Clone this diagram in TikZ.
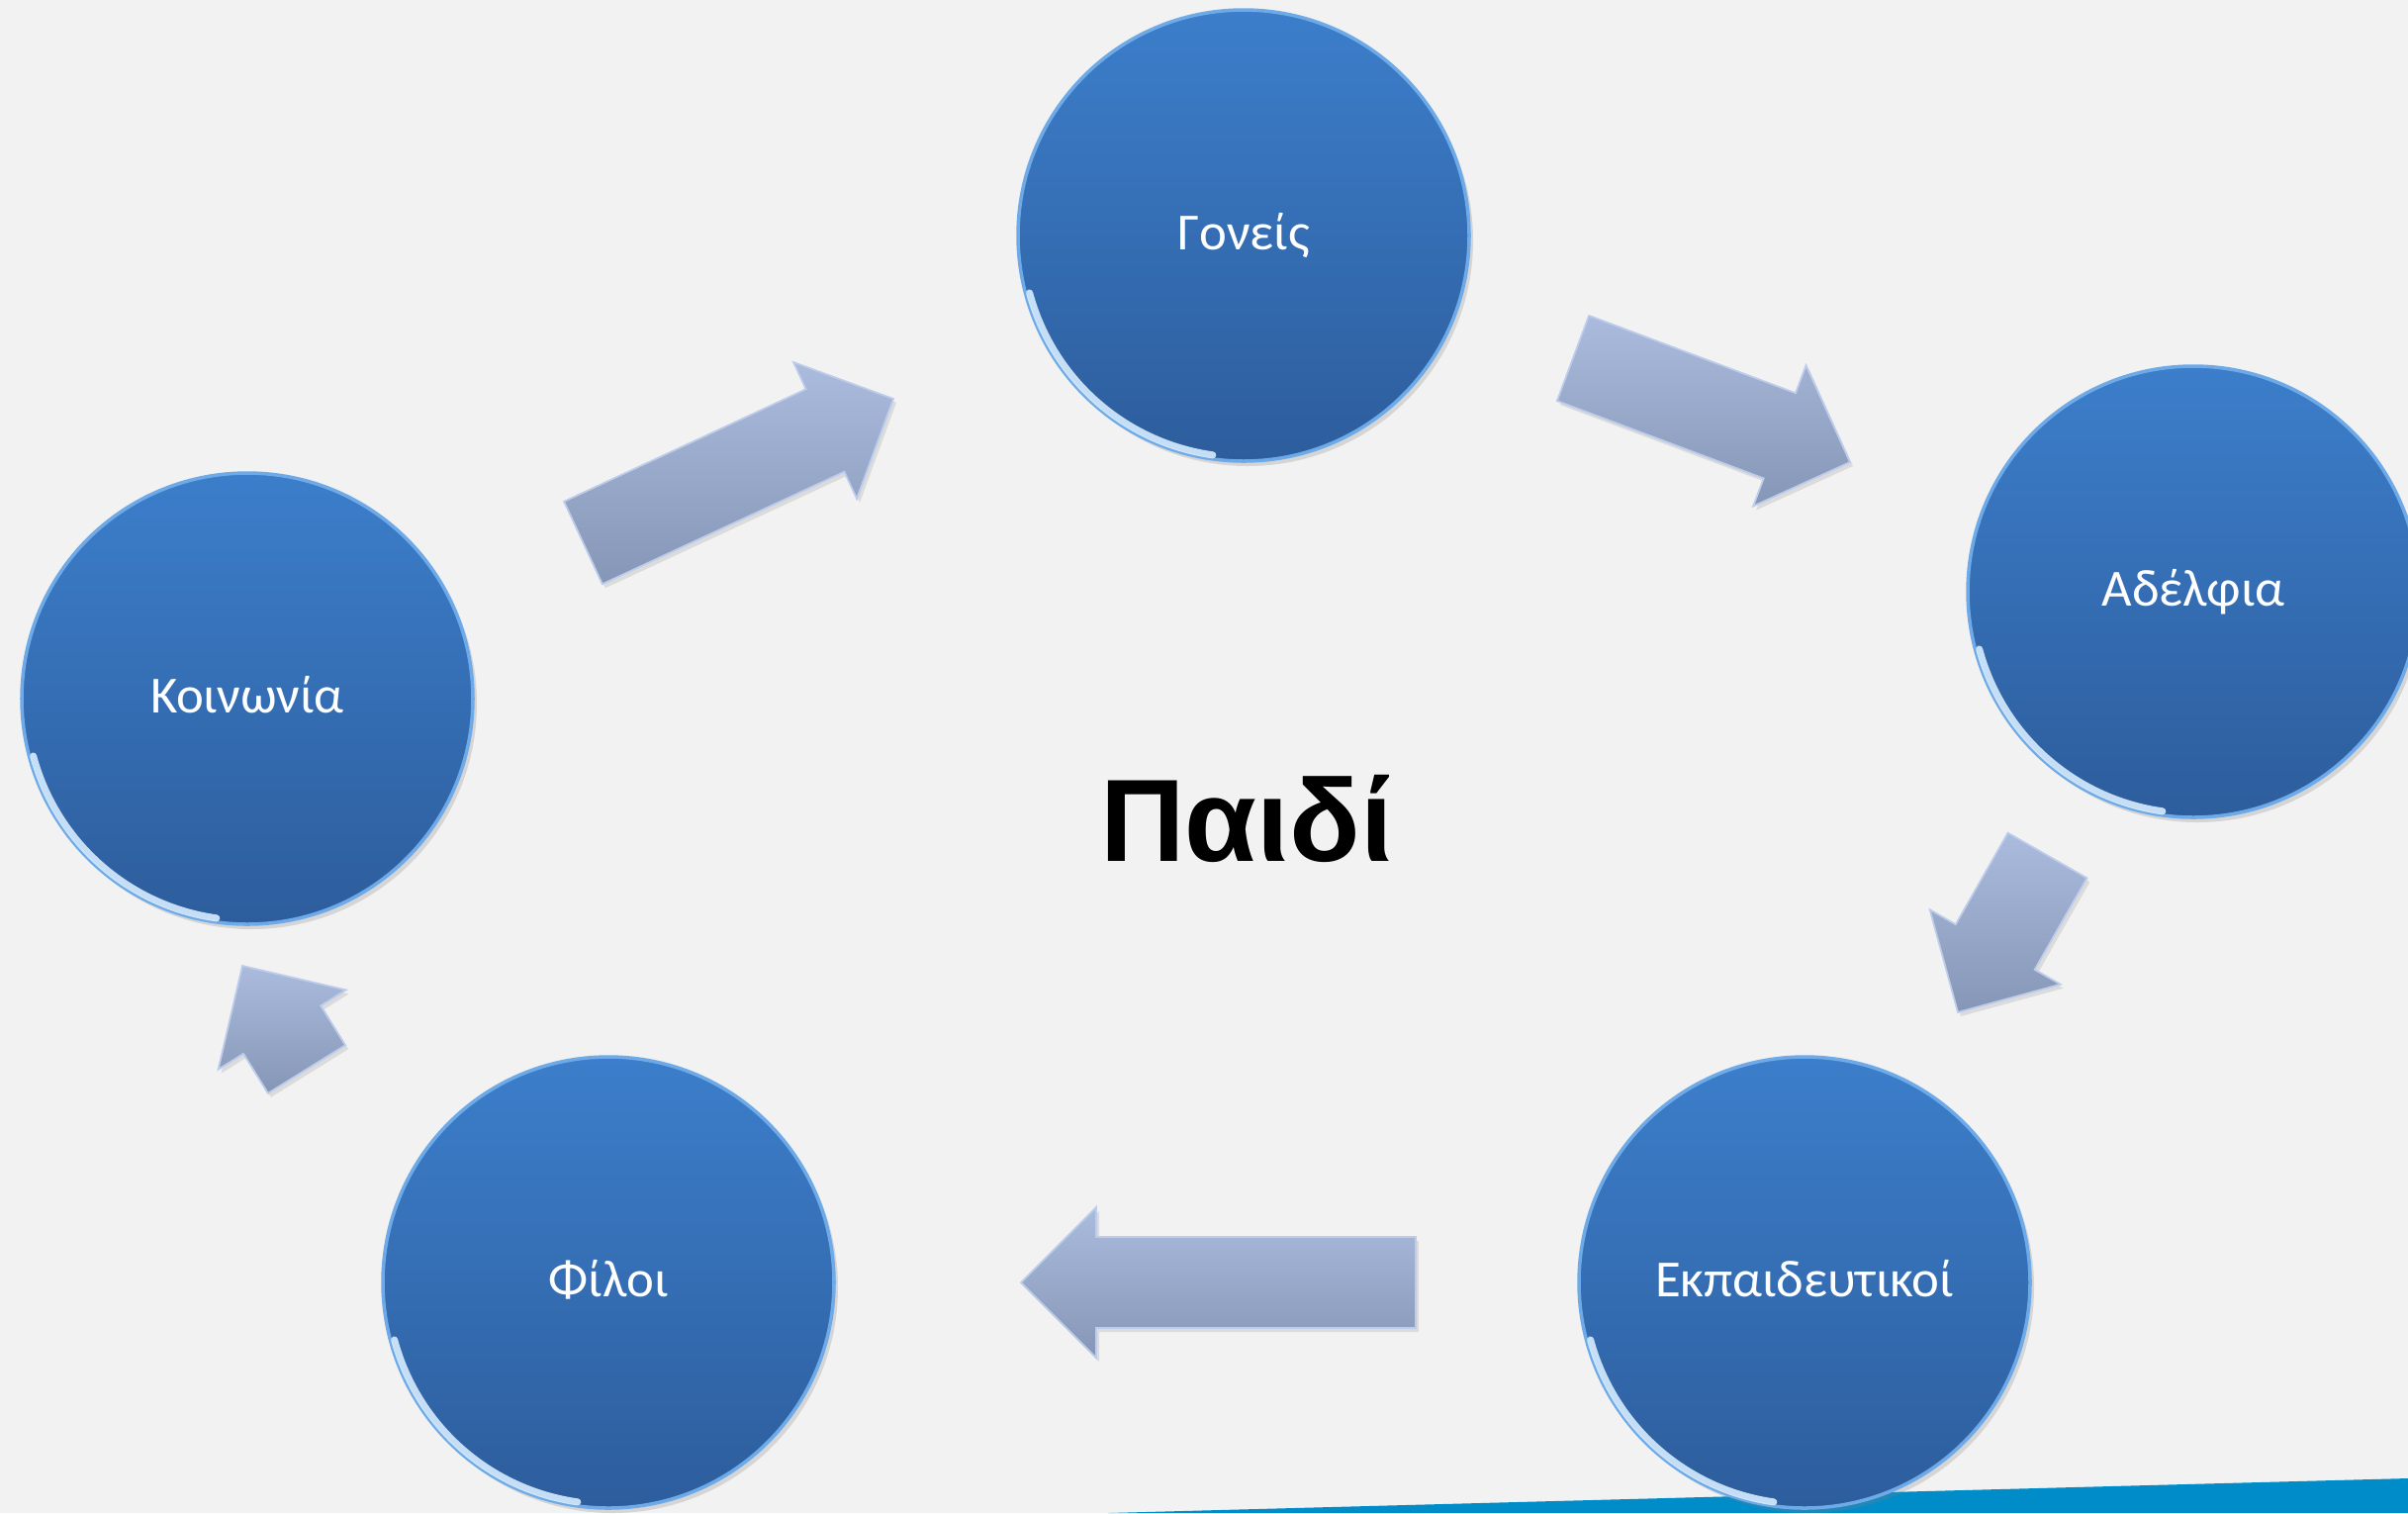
\documentclass[tikz,border=0pt]{standalone}
\usepackage{fontspec}
\setmainfont{Carlito}
\newfontfamily\titlefont{Liberation Sans}
\usepackage{tikz}
\definecolor{bggray}{RGB}{242,242,242}
\definecolor{ballhigh}{RGB}{60,126,203}
\definecolor{balllow}{RGB}{45,93,156}
\definecolor{ballrim}{RGB}{110,170,232}
\definecolor{rimlight}{RGB}{214,236,255}
\definecolor{arrowhigh}{RGB}{170,187,221}
\definecolor{arrowlow}{RGB}{134,150,182}
\definecolor{arrowedge}{RGB}{188,204,234}
\definecolor{stripblue}{RGB}{0,140,201}
\usetikzlibrary{calc}
\usetikzlibrary{shadows}
\pgfdeclarelayer{edgelayer}
\pgfdeclarelayer{nodelayer}
\pgfsetlayers{edgelayer,nodelayer,main}
\tikzstyle{bubble}=[circle,minimum size=4.56cm,inner sep=0pt,top color=ballhigh,bottom color=balllow,draw=ballrim,line width=1pt,text=white,font=\fontsize{15}{18}\selectfont,text height=0.4cm,text depth=0.12cm,drop shadow={shadow xshift=0.04cm,shadow yshift=-0.05cm,opacity=0.25}]
\tikzstyle{rim}=[rimlight,opacity=0.9,line width=2pt,line cap=round]
\tikzstyle{blockarrow}=[top color=arrowhigh,bottom color=arrowlow,draw=arrowedge,line width=0.5pt,line join=miter,drop shadow={shadow xshift=0.03cm,shadow yshift=-0.04cm,opacity=0.2}]
% block arrow from tail #1 to tip #2
\newcommand{\bigarrow}[2]{%
  \path ($(#2)!0.76cm!(#1)$) coordinate (head);
  \path [style = blockarrow] ($(#1)!0.46cm!90:(#2)$) -- ($(head)!0.46cm!90:(#2)$) -- ($(head)!0.76cm!90:(#2)$) -- (#2) -- ($(head)!0.76cm!-90:(#2)$) -- ($(head)!0.46cm!-90:(#2)$) -- ($(#1)!0.46cm!-90:(#2)$) -- cycle;
}

\begin{document}
\begin{tikzpicture}
        \useasboundingbox (0,0) rectangle (24.34,-15.29);

        \begin{pgfonlayer}{nodelayer}
            \node [style = bubble] (goneis) at (12.57, -2.38) {Γονείς};
            \node [style = bubble] (adelfia) at (22.17, -5.98) {Αδέλφια};
            \node [style = bubble] (ekpaid) at (18.24, -12.96) {Εκπαιδευτικοί};
            \node [style = bubble] (filoi) at (6.15, -12.96) {Φίλοι};
            \node [style = bubble] (koinonia) at (2.50, -7.06) {Κοινωνία};

            \node [font=\titlefont\bfseries\fontsize{33.7}{40}\selectfont, anchor=base] (paidi) at (12.60, -8.70) {Παιδί};
        \end{pgfonlayer}

        \coordinate (t1) at (5.895, -5.485);
        \coordinate (h1) at (9.03, -4.03);
        \coordinate (t2) at (15.90, -3.62);
        \coordinate (h2) at (18.70, -4.67);
        \coordinate (t3) at (20.695, -8.645);
        \coordinate (h3) at (19.79, -10.23);
        \coordinate (t4) at (14.31, -12.96);
        \coordinate (h4) at (10.32, -12.96);
        \coordinate (t5) at (3.10, -10.805);
        \coordinate (h5) at (2.45, -9.76);

        \begin{pgfonlayer}{edgelayer}
            \fill [bggray] (0,0) rectangle (24.34,-15.29);
            \fill [stripblue] (11.2,-15.29) -- (24.34,-14.94) -- (24.34,-15.29) -- cycle;

            \bigarrow{t1}{h1}
            \bigarrow{t2}{h2}
            \bigarrow{t3}{h3}
            \bigarrow{t4}{h4}
            \bigarrow{t5}{h5}
        \end{pgfonlayer}

        % light rim on the lower left of each ball
        \foreach \b in {goneis,adelfia,ekpaid,filoi,koinonia}
            \draw [style = rim] ($(\b.center)+(195:2.24)$) arc [start angle=195, end angle=262, radius=2.24cm];
    \end{tikzpicture}
\end{document}
